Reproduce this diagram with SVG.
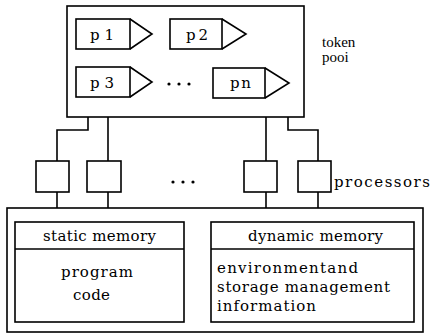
<svg xmlns="http://www.w3.org/2000/svg" width="434" height="336" viewBox="0 0 434 336">
<style>
.b{fill:#fff;stroke:#000;stroke-width:1.6}
.l{fill:none;stroke:#000;stroke-width:1.6}
.t{font-family:"DejaVu Serif","Liberation Serif",serif;font-size:15px;fill:#000}
.s{font-family:"Liberation Serif","DejaVu Serif",serif;font-size:15px;fill:#000}
.d{fill:#000}
</style>
<rect width="434" height="336" fill="#fff"/>
<g id="token-pool">
<rect class="b" x="67" y="6" width="237" height="111"/>
<text class="s" x="322" y="47">token</text>
<text class="s" x="322" y="62">pooi</text>
</g>
<g id="p1">
<rect class="b" x="76" y="19" width="54" height="30"/>
<polyline class="l" points="130,19 152,34 130,49"/>
<text class="t" x="90" y="40" font-size="16" textLength="24" lengthAdjust="spacing">p1</text>
</g>
<g id="p2">
<rect class="b" x="170" y="19" width="52" height="30"/>
<polyline class="l" points="222,19 246,34 222,49"/>
<text class="t" x="186" y="40" font-size="16" textLength="22" lengthAdjust="spacing">p2</text>
</g>
<g id="p3">
<rect class="b" x="76" y="67" width="54" height="30"/>
<polyline class="l" points="130,67 152,82 130,97"/>
<text class="t" x="90" y="88" font-size="16" textLength="24" lengthAdjust="spacing">p3</text>
</g>
<g id="dots-tokens">
<circle class="d" cx="169" cy="84" r="1.6"/><circle class="d" cx="179" cy="84" r="1.6"/><circle class="d" cx="189" cy="84" r="1.6"/>
</g>
<g id="pn">
<rect class="b" x="213" y="68" width="52" height="30"/>
<polyline class="l" points="265,68 289,83 265,98"/>
<text class="t" x="230" y="88" font-size="16" textLength="21" lengthAdjust="spacing">pn</text>
</g>
<g id="connectors">
<polyline class="l" points="88,117 88,130 57,130 57,161"/>
<polyline class="l" points="108,117 108,161"/>
<polyline class="l" points="266,117 266,161"/>
<polyline class="l" points="288,117 288,130 318,130 318,161"/>
<line class="l" x1="57" y1="192" x2="57" y2="208"/>
<line class="l" x1="108" y1="192" x2="108" y2="208"/>
<line class="l" x1="266" y1="192" x2="266" y2="208"/>
<line class="l" x1="318" y1="192" x2="318" y2="208"/>
</g>
<g id="proc1"><rect class="b" x="36" y="161" width="33" height="31"/></g>
<g id="proc2"><rect class="b" x="87" y="161" width="34" height="31"/></g>
<g id="proc-dots">
<circle class="d" cx="173" cy="182" r="1.6"/><circle class="d" cx="183" cy="182" r="1.6"/><circle class="d" cx="193" cy="182" r="1.6"/>
</g>
<g id="proc3"><rect class="b" x="244" y="161" width="33" height="31"/></g>
<g id="proc4"><rect class="b" x="298" y="161" width="33" height="31"/></g>
<g id="processors-label"><text class="t" x="334" y="187" textLength="96" lengthAdjust="spacing">processors</text></g>
<g id="memory">
<rect class="b" x="7" y="208" width="416" height="124"/>
</g>
<g id="static-memory">
<rect class="b" x="15" y="222" width="169" height="100"/>
<line class="l" x1="15" y1="249" x2="184" y2="249"/>
<text class="t" x="43" y="241" textLength="113" lengthAdjust="spacing">static memory</text>
<text class="t" x="61" y="277" textLength="72" lengthAdjust="spacing">program</text>
<text class="t" x="73" y="300" textLength="37" lengthAdjust="spacing">code</text>
</g>
<g id="dynamic-memory">
<rect class="b" x="211" y="222" width="203" height="100"/>
<line class="l" x1="211" y1="249" x2="414" y2="249"/>
<text class="t" x="248" y="241" textLength="135" lengthAdjust="spacing">dynamic memory</text>
<text class="t" x="217" y="273" textLength="141" lengthAdjust="spacing">environmentand</text>
<text class="t" x="217" y="292" textLength="173" lengthAdjust="spacing">storage management</text>
<text class="t" x="217" y="311" textLength="99" lengthAdjust="spacing">information</text>
</g>
</svg>
